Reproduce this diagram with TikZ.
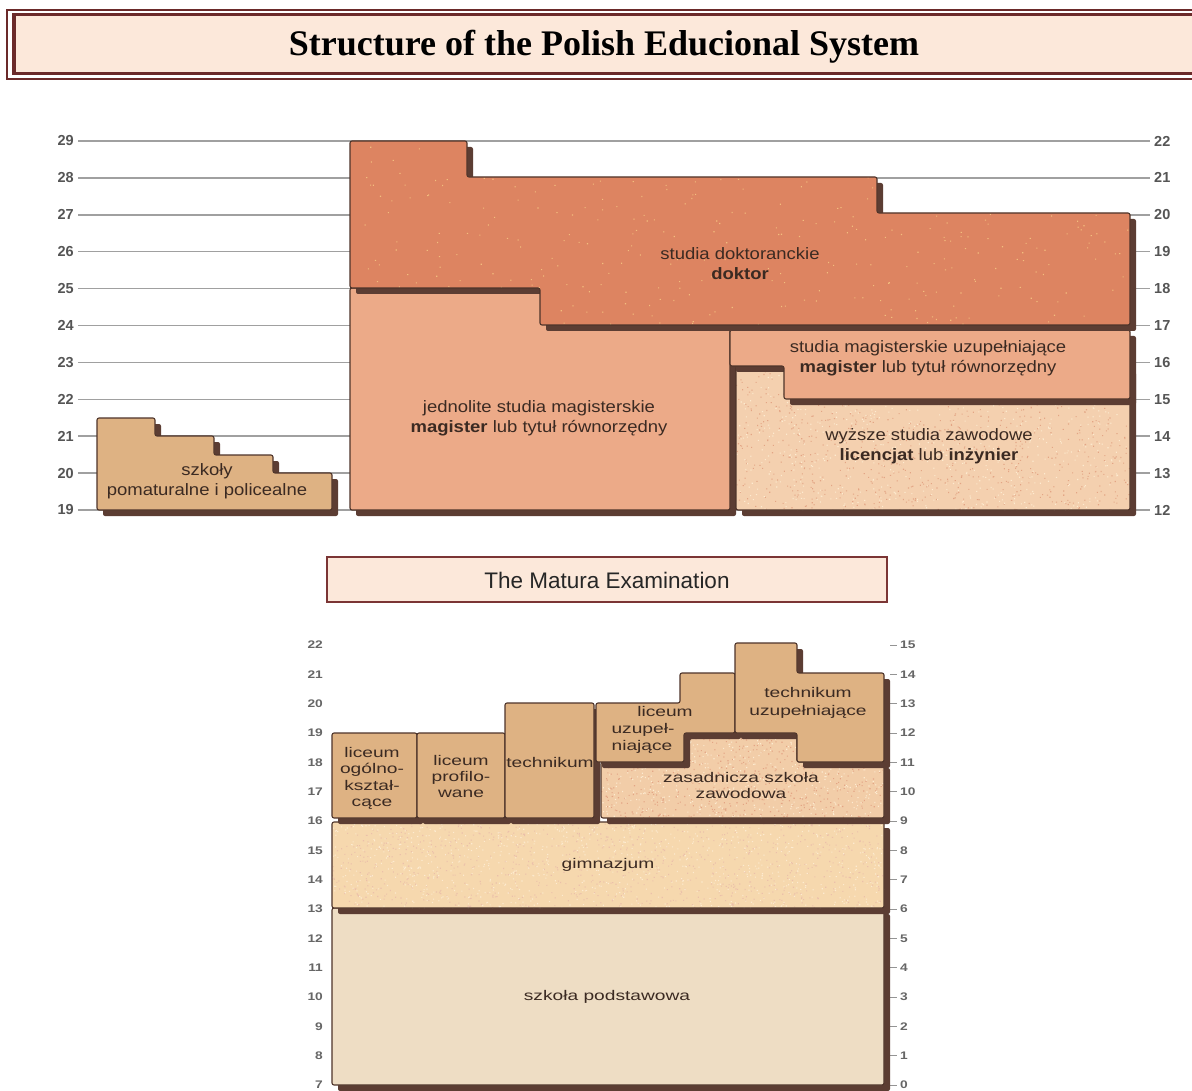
\documentclass[tikz,border=0pt]{standalone}
\usepackage{fontspec}
\setmainfont{Liberation Sans}
\newfontfamily\titlefont{Liberation Serif}
\newfontfamily\topfont[FakeStretch=1.12]{Liberation Sans}
\newfontfamily\botfont[FakeStretch=1.37]{Liberation Sans}
\newfontfamily\botnum[FakeStretch=1.25]{Liberation Sans}
\definecolor{titlec}{HTML}{6B2A2A}
\definecolor{titlefill}{HTML}{FCE8DA}
\definecolor{maturac}{HTML}{7B3535}
\definecolor{shadowc}{HTML}{5C3D33}
\definecolor{edgec}{HTML}{4E342A}
\definecolor{textc}{HTML}{3B2A22}
\definecolor{gridc}{HTML}{A0A0A0}
\definecolor{labc}{HTML}{555555}
\definecolor{blabc}{HTML}{666666}
\definecolor{doktc}{HTML}{DD8461}
\definecolor{dotc}{HTML}{F3BE7E}
\definecolor{magc}{HTML}{ECAA88}
\definecolor{wyzc}{HTML}{F4D0AF}
\definecolor{tanc}{HTML}{DEB283}
\definecolor{gimc}{HTML}{F6D8AE}
\definecolor{zasc}{HTML}{F2CDA8}
\definecolor{podc}{HTML}{EEDDC4}
\definecolor{speckd}{HTML}{E3A585}
\definecolor{speckl}{HTML}{FDEBD0}
\tikzset{
  blk/.style={draw=edgec, line width=1.1pt, rounded corners=2pt},
  shd/.style={fill=shadowc, rounded corners=2pt},
  ttxt/.style={text=textc, font=\topfont\fontsize{16.5}{20}\selectfont, anchor=base, inner sep=0pt},
  btxt/.style={text=textc, font=\botfont\fontsize{14}{17}\selectfont, anchor=base, inner sep=0pt},
  ylab/.style={text=labc, font=\bfseries\fontsize{14.5}{14.5}\selectfont, inner sep=0pt},
  blab/.style={text=blabc, font=\botnum\bfseries\fontsize{11}{11}\selectfont, inner sep=0pt},
  gridline/.style={draw=gridc, line width=1.5pt},
  tickline/.style={draw=blabc!70, line width=0.8pt}
}
\newcommand\eduBlock[3]{%
  \fill[shd, shift={(6,6)}] #2 -- cycle;
  \fill[#1, rounded corners=2pt] #2 -- cycle;
  \begin{scope}\clip[rounded corners=2pt] #2 -- cycle; #3 \end{scope}
  \draw[blk] #2 -- cycle;}
% speckle: x0 y0 w h count colour size
\newcommand\speckle[7]{%
  \fill[#6] \foreach \i in {1,...,#5} { ({#1+rnd*#3},{#2+rnd*#4}) rectangle ++(#7,#7) };}
\begin{document}
\begin{tikzpicture}[x=1pt,y=-1pt]
\pgfmathsetseed{7}
\useasboundingbox (0,0) rectangle (1192,1091);
\fill[white] (0,0) rectangle (1192,1091);
\clip (0,0) rectangle (1192,1091);

% ---------- title ----------
\draw[titlec, line width=1.3pt] (7,10) rectangle (1210,79);
\fill[titlefill] (15,16) rectangle (1210,72);
\draw[titlec, line width=3.2pt] (14,14.5) rectangle (1210,73.5);
\node[font=\titlefont\bfseries\fontsize{36}{40}\selectfont, inner sep=0pt, anchor=base] (title) at (604,56) {Structure of the Polish Educional System};

% ---------- upper chart: grid ----------
\foreach \i in {0,...,10} { \draw[gridline] (78,{141+36.9*\i}) -- (1150,{141+36.9*\i}); }
\foreach \n [count=\i from 0] in {29,28,...,19} { \node[ylab, anchor=east] (L\n) at (74,{141+36.9*\i}) {\n}; }
\foreach \n [count=\i from 0] in {22,21,...,12} { \node[ylab, anchor=west] (R\n) at (1154,{141+36.9*\i}) {\n}; }

% ---------- upper chart: blocks ----------
\eduBlock{tanc}{(97,418) -- (155,418) -- (155,436) -- (214,436) -- (214,455) -- (273,455) -- (273,473) -- (332,473) -- (332,510) -- (97,510)}{}
\eduBlock{magc}{(350,288) -- (730,288) -- (730,510) -- (350,510)}{}
\eduBlock{wyzc}{(736,366) -- (1130,366) -- (1130,510) -- (736,510)}{\speckle{736}{366}{394}{144}{900}{speckd}{1.1}\speckle{736}{366}{394}{144}{700}{speckl}{1.1}}
\eduBlock{magc}{(730,330) -- (1130,330) -- (1130,399) -- (784,399) -- (784,366) -- (730,366)}{}
\eduBlock{doktc}{(350,141) -- (467,141) -- (467,177) -- (877,177) -- (877,213) -- (1130,213) -- (1130,325) -- (540,325) -- (540,288) -- (350,288)}{\speckle{350}{141}{780}{184}{380}{dotc}{1.1}}

\node[ttxt] (szk1) at (207,475) {szkoły};
\node[ttxt] (szk2) at (207,495) {pomaturalne i policealne};
\node[ttxt] (dok1) at (740,260) {studia doktoranckie};
\node[ttxt] (dok2) at (740,280) {\bfseries doktor};
\node[ttxt] (jed1) at (539,412) {jednolite studia magisterskie};
\node[ttxt] (jed2) at (539,432) {\bfseries magister\mdseries{} lub tytuł równorzędny};
\node[ttxt] (uzu1) at (928,353) {studia magisterskie uzupełniające};
\node[ttxt] (uzu2) at (928,373) {\bfseries magister\mdseries{} lub tytuł równorzędny};
\node[ttxt] (wyz1) at (929,440) {wyższe studia zawodowe};
\node[ttxt] (wyz2) at (929,460) {\bfseries licencjat\mdseries{} lub \bfseries inżynier};

% ---------- Matura box ----------
\draw[maturac, line width=1.5pt, fill=titlefill] (327,557) rectangle (887,602);
\node[text=black!85, font=\fontsize{22.5}{26}\selectfont, inner sep=0pt] (matura) at (607,580) {The Matura Examination};

% ---------- lower chart: axes ----------
\foreach \n [count=\i from 0] in {22,21,...,7} { \node[blab, anchor=east] (BL\n) at (323,{645+29.333*\i}) {\n}; }
\foreach \n [count=\i from 0] in {15,14,...,0} {
  \draw[tickline] (890,{645+29.333*\i}) -- (897,{645+29.333*\i});
  \node[blab, anchor=west] (BR\n) at (900,{645+29.333*\i}) {\n}; }

% ---------- lower chart: blocks ----------
\eduBlock{podc}{(332,908) -- (884,908) -- (884,1085) -- (332,1085)}{}
\eduBlock{gimc}{(332,822) -- (884,822) -- (884,908) -- (332,908)}{\speckle{332}{822}{552}{86}{900}{speckd!70}{1.1}\speckle{332}{822}{552}{86}{900}{speckl}{1.1}}
\eduBlock{tanc}{(332,733) -- (417,733) -- (417,818) -- (332,818)}{}
\eduBlock{tanc}{(417,733) -- (505,733) -- (505,818) -- (417,818)}{}
\eduBlock{tanc}{(505,703) -- (594,703) -- (594,818) -- (505,818)}{}
\eduBlock{zasc}{(601,762) -- (686,762) -- (686,733) -- (797,733) -- (797,762) -- (884,762) -- (884,818) -- (601,818)}{\speckle{601}{733}{283}{85}{600}{speckd}{1.1}\speckle{601}{733}{283}{85}{500}{speckl}{1.1}}
\eduBlock{tanc}{(596,703) -- (680,703) -- (680,673) -- (735,673) -- (735,733) -- (684,733) -- (684,762) -- (596,762)}{}
\eduBlock{tanc}{(735,643) -- (797,643) -- (797,673) -- (884,673) -- (884,762) -- (797,762) -- (797,733) -- (735,733)}{}

\node[btxt] (lo1) at (372,757) {liceum};
\node[btxt] (lo2) at (372,773) {ogólno-};
\node[btxt] (lo3) at (372,790) {kształ-};
\node[btxt] (lo4) at (372,806) {cące};
\node[btxt] (lp1) at (461,765) {liceum};
\node[btxt] (lp2) at (461,781) {profilo-};
\node[btxt] (lp3) at (461,797) {wane};
\node[btxt] (tk) at (550,767) {technikum};
\node[btxt] (lu1) at (665,716) {liceum};
\node[btxt] (lu2) at (643,733) {uzupeł-};
\node[btxt] (lu3) at (642,750) {niające};
\node[btxt] (tu1) at (808,697) {technikum};
\node[btxt] (tu2) at (808,715) {uzupełniające};
\node[btxt] (zs1) at (741,782) {zasadnicza szkoła};
\node[btxt] (zs2) at (741,798) {zawodowa};
\node[btxt] (gim) at (608,868) {gimnazjum};
\node[btxt] (pod) at (607,1000) {szkoła podstawowa};
\end{tikzpicture}
\end{document}
